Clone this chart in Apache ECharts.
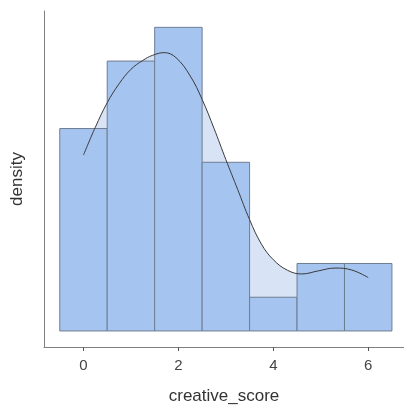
<!DOCTYPE html>
<html>
<head>
<meta charset="utf-8">
<style>
  html, body { margin: 0; padding: 0; background: #ffffff; }
  #chart { width: 404px; height: 413px; }
</style>
<script src="https://cdn.jsdelivr.net/npm/echarts@6/dist/echarts.min.js"></script>
</head>
<body>
<div id="chart"></div>
<script>
// Histogram bins (centres, width 1) and counts of creative_score
const binCenters = [0, 1, 2, 3, 4, 5, 6];
const binCounts = [6, 8, 9, 5, 1, 2, 2];
const binWidth = 1;

// Kernel density estimate of creative_score (peak, trough and bump included)
const kdeX = [0, 0.25, 0.5, 0.75, 1.0, 1.25, 1.45, 1.7, 1.95, 2.25, 2.5, 2.75, 3.0,
              3.25, 3.5, 3.75, 4.0, 4.3, 4.6, 4.95, 5.3, 5.65, 6.0];
const kdeY = [0.158, 0.183, 0.205, 0.222, 0.235, 0.243, 0.2475, 0.250, 0.2455, 0.229,
              0.208, 0.182, 0.154, 0.127, 0.100, 0.078, 0.064, 0.0545, 0.0512, 0.054,
              0.0565, 0.0548, 0.048];

// Tick values on the x axis
const xTicks = [0, 2, 4, 6];

const total = binCounts.reduce((a, b) => a + b, 0);
const histData = binCenters.map((c, i) => [c - binWidth / 2, c + binWidth / 2, binCounts[i] / (total * binWidth)]);
const kdeData = kdeX.map((x, i) => [x, kdeY[i]]);

const chart = echarts.init(document.getElementById('chart'), null, { renderer: 'canvas' });

const font = 'Liberation Sans, Arial, sans-serif';

chart.setOption({
  animation: false,
  backgroundColor: '#ffffff',
  grid: { left: 44, right: 0, top: 11, bottom: 66 },
  xAxis: {
    type: 'value',
    min: -0.832,
    max: 6.754,
    interval: 2,
    name: 'creative_score',
    nameLocation: 'middle',
    nameGap: 41,
    nameTextStyle: { fontFamily: font, fontSize: 17, color: '#333333' },
    axisLine: { show: true, onZero: false, lineStyle: { color: '#7f7f7f', width: 1 } },
    axisTick: {
      show: true, length: 4, lineStyle: { color: '#555555', width: 1 },
      customValues: xTicks
    },
    axisLabel: {
      fontFamily: font, fontSize: 15, color: '#444444', margin: 11,
      customValues: xTicks,
      formatter: v => String(v)
    },
    splitLine: { show: false }
  },
  yAxis: {
    type: 'value',
    min: -0.0144,
    max: 0.2874,
    name: 'density',
    nameLocation: 'middle',
    nameGap: 18,
    nameRotate: 90,
    nameTextStyle: { fontFamily: font, fontSize: 17, color: '#333333' },
    axisLine: { show: true, onZero: false, lineStyle: { color: '#7f7f7f', width: 1 } },
    axisTick: { show: false },
    axisLabel: { show: false },
    splitLine: { show: false }
  },
  series: [
    {
      // shaded area under the density curve, behind the bars
      type: 'line',
      data: kdeData,
      smooth: 0.4,
      symbol: 'none',
      lineStyle: { width: 0 },
      areaStyle: { color: '#d8e4f6', opacity: 1, origin: 0 },
      z: 1,
      silent: true
    },
    {
      type: 'custom',
      data: histData,
      renderItem: function (params, api) {
        const p0 = api.coord([api.value(0), 0]);
        const p1 = api.coord([api.value(1), api.value(2)]);
        return {
          type: 'rect',
          shape: { x: p0[0], y: p1[1], width: p1[0] - p0[0], height: p0[1] - p1[1] },
          style: { fill: '#a6c4f0', stroke: '#6f7d92', lineWidth: 1 }
        };
      },
      encode: { x: [0, 1], y: 2 },
      z: 2,
      silent: true
    },
    {
      // density curve outline
      type: 'line',
      data: kdeData,
      smooth: 0.4,
      symbol: 'none',
      lineStyle: { color: '#3a3a3a', width: 1 },
      z: 3,
      silent: true
    }
  ]
});
</script>
</body>
</html>
